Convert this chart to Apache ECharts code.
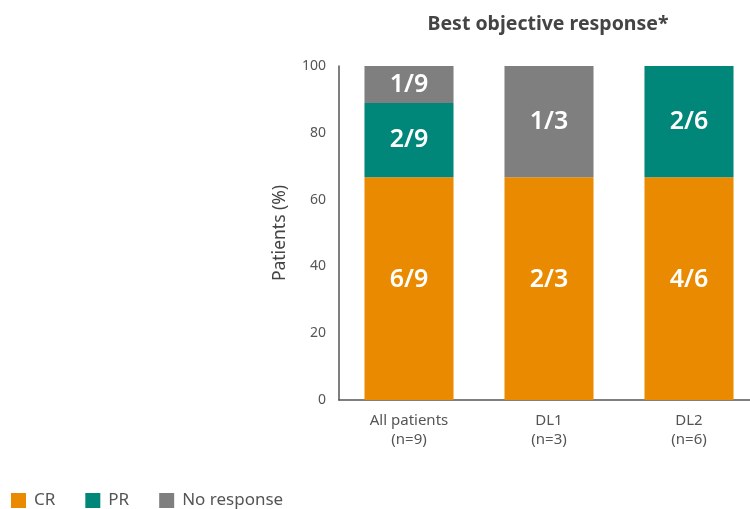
<!DOCTYPE html>
<html><head><meta charset="utf-8">
<script src="https://cdn.jsdelivr.net/npm/echarts@6/dist/echarts.min.js"></script>
<style>html,body{margin:0;padding:0;background:#fff}#c{width:750px;height:509px}</style>
</head><body><div id="c"></div>
<script>
const categories = ['All patients\n(n=9)', 'DL1\n(n=3)', 'DL2\n(n=6)'];
const crValues = [66.67, 66.67, 66.67];
const prValues = [22.22, null, 33.33];
const nrValues = [11.11, 33.33, null];
const crLabels = ['6/9', '2/3', '4/6'];
const prLabels = ['2/9', '', '2/6'];
const nrLabels = ['1/9', '1/3', ''];
const yTicks = [0, 20, 40, 60, 80, 100];

const font = '"Noto Sans", "Open Sans", sans-serif';
function lab(arr, off) {
  return {
    show: true, color: '#fff', fontSize: 25, fontWeight: 600, fontFamily: font,
    offset: off || [0, 0],
    formatter: p => arr[p.dataIndex]
  };
}
const chart = echarts.init(document.getElementById('c'));
chart.setOption({
  animation: false,
  title: {
    text: 'Best objective response*', left: 543, top: 9, textAlign: 'center',
    textStyle: {fontSize: 19.5, fontWeight: 'bold', color: '#444', fontFamily: font}
  },
  legend: {
    left: 6, top: 487, itemWidth: 15, itemHeight: 15, itemGap: 30, icon: 'rect',
    textStyle: {fontSize: 17, color: '#555', fontFamily: font, padding: [0, 0, 0, 3]},
    data: ['CR', 'PR', 'No response']
  },
  grid: {left: 339, width: 420, top: 66, bottom: 109, outerBoundsMode: 'none', containLabel: false},
  xAxis: {
    type: 'category', data: categories,
    axisLine: {lineStyle: {color: '#555', width: 1.5}},
    axisTick: {show: false},
    axisLabel: {fontSize: 15, color: '#555', fontFamily: font, lineHeight: 19, margin: 11}
  },
  yAxis: {
    type: 'value', min: 0, max: 100, interval: 20,
    name: 'Patients (%)', nameLocation: 'middle', nameGap: 50,
    nameTextStyle: {fontSize: 17.5, color: '#444', fontFamily: font},
    axisLine: {show: true, lineStyle: {color: '#555', width: 1.5}},
    axisTick: {show: false},
    splitLine: {show: false},
    axisLabel: {fontSize: 14, color: '#555', fontFamily: font, margin: 13,
      formatter: v => yTicks.includes(v) ? String(v) : ''}
  },
  series: [
    {name: 'CR', type: 'bar', stack: 's', barWidth: '63.6%', data: crValues,
     itemStyle: {color: '#EA8A00'}, label: lab(crLabels, [0, -9])},
    {name: 'PR', type: 'bar', stack: 's', data: prValues,
     itemStyle: {color: '#00877A'}, label: lab(prLabels)},
    {name: 'No response', type: 'bar', stack: 's', data: nrValues,
     itemStyle: {color: '#7F7F7F'}, label: lab(nrLabels)}
  ]
});
</script></body></html>
